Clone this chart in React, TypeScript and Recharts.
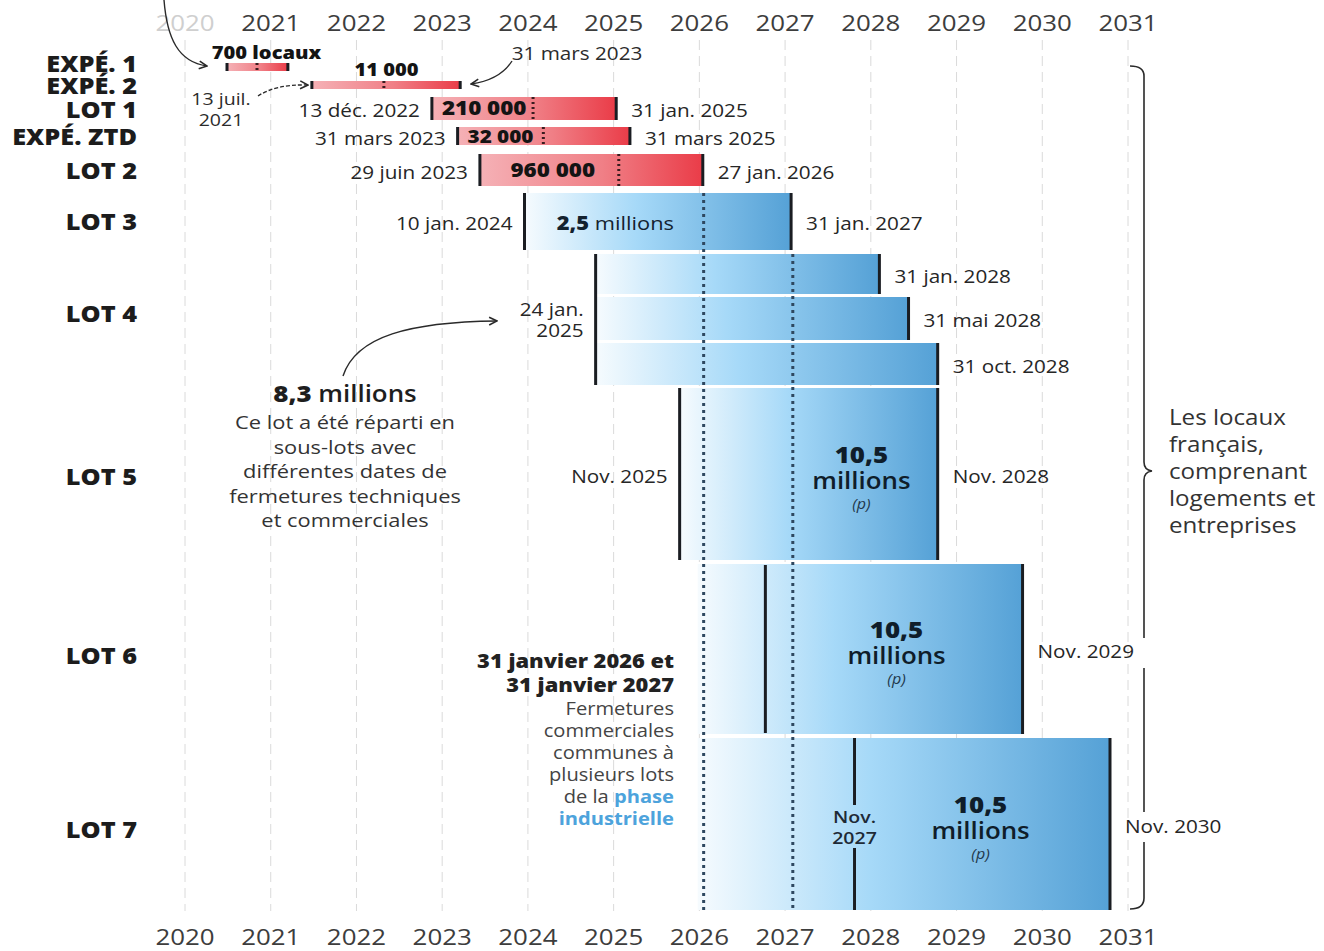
import React from 'react';
import {
  ComposedChart,
  XAxis,
  YAxis,
  CartesianGrid,
  ReferenceArea,
  ReferenceLine,
  Scatter,
} from 'recharts';

const FONT = '"Open Sans", "DejaVu Sans", sans-serif';

const years = [2020, 2021, 2022, 2023, 2024, 2025, 2026, 2027, 2028, 2029, 2030, 2031];
const rowNames = ['EXPÉ. 1', 'EXPÉ. 2', 'LOT 1', 'EXPÉ. ZTD', 'LOT 2', 'LOT 3', 'LOT 4', 'LOT 5', 'LOT 6', 'LOT 7'];

// experiments + lots 1-2 (red)
const redStart = [2020.49, 2021.48, 2022.88, 2023.18, 2023.44];
const redTech = [2020.84, 2022.32, 2024.06, 2024.18, 2025.06];
const redEnd = [2021.2, 2023.21, 2025.03, 2025.19, 2026.04];
const redValue = ['700 locaux', '11 000', '210 000', '32 000', '960 000'];
const redStartText = ['', '13 juil.\n2021', '13 déc. 2022', '31 mars 2023', '29 juin 2023'];
const redEndText = ['', '31 mars 2023', '31 jan. 2025', '31 mars 2025', '27 jan. 2026'];

// industrial phase (blue): lot 3, lot 4 (3 sub-lots), lots 5-7
const blueStart = [2023.96, 2024.79, 2024.79, 2024.79, 2025.77, 2026.77, 2027.81];
const blueFadeFrom = [2023.96, 2024.79, 2024.79, 2024.79, 2025.77, 2025.98, 2025.98];
const blueEnd = [2027.07, 2028.1, 2028.44, 2028.78, 2028.78, 2029.77, 2030.79];
const blueStartText = ['10 jan. 2024', '24 jan.\n2025', '', '', 'Nov. 2025', '', 'Nov.\n2027'];
const blueEndText = ['31 jan. 2027', '31 jan. 2028', '31 mai 2028', '31 oct. 2028', 'Nov. 2028', 'Nov. 2029', 'Nov. 2030'];
const blueValue = ['2,5', '', '', '', '10,5', '10,5', '10,5'];

// common commercial closures: 31 jan. 2026 and 31 jan. 2027
const commercialClosures = [2026.05, 2027.09];

// ---- layout ----
const W = 1324;
const H = 951;
const SX = 1.15; // text in the original is set wide
const rowLabelY = [64, 86, 110, 137, 171, 222, 314, 477, 656, 830];
const redBands = [[63, 71], [81, 89], [97, 120], [127, 145], [154, 186]];
const blueBands = [[193, 250], [254, 294], [297, 340], [343, 385], [388, 560], [564, 734], [738, 910]];
const blueStartSpan = [[193, 250], [254, 385], null, null, [388, 560], [565, 733], [738, 910]];
const redValueAt = [2020.95, 2022.35, 2023.49, 2023.68, 2024.29];
const redValueY = [53, 70, 108, 136, 170];
const redValueSize = [17.5, 17.5, 19.5, 18, 19.5];
const blueValueAt = [2025.02, 0, 0, 0, 2027.89, 2028.3, 2029.28];
const closureTop = [193, 254];
const lot7Gap = [805, 848];

type TProps = {
  x: number; y: number; anchor?: 'start' | 'middle' | 'end'; size: number; weight?: number;
  fill?: string; italic?: boolean; children: React.ReactNode;
};
function T({ x, y, anchor = 'start', size, weight = 400, fill = '#262626', italic, children }: TProps) {
  return (
    <text transform={`translate(${x},${y}) scale(${SX},1)`} x={0} y={0} textAnchor={anchor}
      dominantBaseline="central" fontFamily={FONT} fontSize={size} fontWeight={weight}
      fontStyle={italic ? 'italic' : 'normal'} fill={fill}>
      {children}
    </text>
  );
}

type Lbl = { x: number; y: number; kind: string; lines: string[]; i: number };

function buildLabels(): Lbl[] {
  const out: Lbl[] = [];
  redStart.forEach((s, i) => {
    const [t, b] = redBands[i];
    const c = (t + b) / 2 + 2;
    if (i >= 2) {
      out.push({ x: s, y: c, kind: 'start', lines: [redStartText[i]], i });
      out.push({ x: redEnd[i], y: c, kind: 'end', lines: [redEndText[i]], i });
    }
    out.push({ x: redValueAt[i], y: redValueY[i], kind: 'value', lines: [redValue[i]], i });
  });
  blueStart.forEach((s, i) => {
    const [t, b] = blueBands[i];
    const c = (t + b) / 2;
    if (blueStartText[i]) {
      const lines = blueStartText[i].split('\n');
      if (i === 6) out.push({ x: s, y: c + 2, kind: 'center', lines, i });
      else if (i === 1) out.push({ x: s, y: c + (385 - 294) / 2, kind: 'start', lines, i });
      else out.push({ x: s, y: c + 2, kind: 'start', lines, i });
    }
    out.push({ x: blueEnd[i], y: c + 2, kind: 'end', lines: [blueEndText[i]], i });
    if (blueValue[i] === '2,5') out.push({ x: blueValueAt[i], y: c + 1, kind: 'mill', lines: [blueValue[i]], i });
    else if (blueValue[i]) out.push({ x: blueValueAt[i], y: c, kind: 'big', lines: [blueValue[i]], i });
  });
  return out;
}

const renderLabel = (props: any) => {
  const { cx, cy, payload } = props;
  const p = payload as Lbl;
  if (p.kind === 'start') {
    const off = p.lines.length > 1 ? -10.5 : 0;
    return (
      <g>
        {p.lines.map((l, k) => (
          <T key={k} x={cx - 12} y={cy + off + k * 21} anchor="end" size={18} weight={500}>{l}</T>
        ))}
      </g>
    );
  }
  if (p.kind === 'end') {
    return <T x={cx + 15} y={cy} size={18} weight={500}>{p.lines[0]}</T>;
  }
  if (p.kind === 'center') {
    return (
      <g>
        {p.lines.map((l, k) => (
          <T key={k} x={cx} y={cy - 10 + k * 21} anchor="middle" size={17} weight={600} fill="#1e2a36">{l}</T>
        ))}
      </g>
    );
  }
  if (p.kind === 'value') {
    return <T x={cx} y={cy} anchor="middle" size={redValueSize[p.i]} weight={800} fill="#141414">{p.lines[0]}</T>;
  }
  if (p.kind === 'mill') {
    return (
      <T x={cx} y={cy} anchor="middle" size={19} fill="#13222f">
        <tspan fontWeight={800}>{p.lines[0]}</tspan>
        <tspan fontWeight={500}> millions</tspan>
      </T>
    );
  }
  // big block: 10,5 / millions / (p)
  return (
    <g>
      <T x={cx} y={cy - 20} anchor="middle" size={22.5} weight={800} fill="#0f1d2a">{p.lines[0]}</T>
      <T x={cx} y={cy + 6} anchor="middle" size={22.5} weight={600} fill="#0f1d2a">millions</T>
      <T x={cx} y={cy + 29} anchor="middle" size={14} italic fill="#22384c">(p)</T>
    </g>
  );
};

const TopTick = (props: any) => {
  const { x, y, payload } = props;
  return (
    <T x={x} y={y - 6} anchor="middle" size={22.5} fill={payload.value === 2020 ? '#cfcfcf' : '#3d3d3d'}>
      {payload.value}
    </T>
  );
};

const BottomTick = (props: any) => {
  const { x, y, payload } = props;
  return (
    <T x={x} y={y + 13} anchor="middle" size={22.5} fill="#3d3d3d">{payload.value}</T>
  );
};

const RowTick = (props: any) => {
  const { x, y, payload } = props;
  const idx = rowLabelY.indexOf(payload.value);
  return (
    <T x={x} y={y} anchor="end" size={22} weight={800} fill="#1c1c1c">{rowNames[idx]}</T>
  );
};

const DARK = '#1a1d22';
const hiddenTop = [{ x: 2020, y: 40 }, { x: 2031, y: 40 }];

export default function App() {
  const labels = buildLabels();
  const [e2start, e2end] = [redStartText[1].split('\n'), redEndText[1]];
  return (
    <div style={{ position: 'absolute', left: 0, top: 0, width: W, height: H, background: '#fff' }}>
      <ComposedChart width={W} height={H} margin={{ top: 0, right: 196, bottom: 0, left: 0 }}>
        <defs>
          <linearGradient id="redFill" x1="0" y1="0" x2="1" y2="0">
            <stop offset="0%" stopColor="#f5b1b6" />
            <stop offset="55%" stopColor="#f07f86" />
            <stop offset="100%" stopColor="#ea3c48" />
          </linearGradient>
          <linearGradient id="blueFill" x1="0" y1="0" x2="1" y2="0">
            <stop offset="0%" stopColor="#f6fbfe" />
            <stop offset="42%" stopColor="#a6d9f8" />
            <stop offset="100%" stopColor="#55a1d6" />
          </linearGradient>
        </defs>
        <CartesianGrid horizontal={false} stroke="#dadada" strokeDasharray="10 6" />
        <XAxis xAxisId={0} type="number" dataKey="x" domain={[2020, 2031]} ticks={years} interval={0}
          height={40} tickSize={0} tickMargin={12} axisLine={false} tickLine={false} tick={<BottomTick />} />
        <XAxis xAxisId="top" orientation="top" type="number" dataKey="x" domain={[2020, 2031]} ticks={years} interval={0}
          height={40} tickSize={0} tickMargin={12} axisLine={false} tickLine={false} tick={<TopTick />} />
        <YAxis type="number" dataKey="y" domain={[40, 911]} reversed width={185} ticks={rowLabelY} interval={0}
          tickSize={0} tickMargin={48} axisLine={false} tickLine={false} tick={<RowTick />} />

        {redStart.map((s, i) => (
          <ReferenceArea key={`ra${i}`} x1={s} x2={redEnd[i]} y1={redBands[i][0]} y2={redBands[i][1]}
            fill="url(#redFill)" fillOpacity={1} stroke="none" />
        ))}
        {blueStart.map((s, i) => (
          <ReferenceArea key={`ba${i}`} x1={blueFadeFrom[i]} x2={blueEnd[i]} y1={blueBands[i][0]} y2={blueBands[i][1]}
            fill="url(#blueFill)" fillOpacity={1} stroke="none" />
        ))}

        {commercialClosures.map((c, i) => (
          <ReferenceLine key={`cc${i}`} segment={[{ x: c, y: closureTop[i] }, { x: c, y: 910 }]}
            stroke="#2e4860" strokeWidth={3} strokeDasharray="3 4" />
        ))}

        {redStart.map((s, i) => (
          <ReferenceLine key={`rs${i}`} segment={[{ x: s, y: redBands[i][0] }, { x: s, y: redBands[i][1] }]}
            stroke={DARK} strokeWidth={3} />
        ))}
        {redEnd.map((e, i) => (
          <ReferenceLine key={`re${i}`} segment={[{ x: e, y: redBands[i][0] }, { x: e, y: redBands[i][1] }]}
            stroke={DARK} strokeWidth={3} />
        ))}
        {redTech.map((m, i) => (
          <ReferenceLine key={`rm${i}`} segment={[{ x: m, y: redBands[i][0] }, { x: m, y: redBands[i][1] }]}
            stroke="#3a1c1f" strokeWidth={3} strokeDasharray="2 3" />
        ))}

        {blueStart.map((s, i) => {
          const span = blueStartSpan[i];
          if (!span) return null;
          if (i === 6) {
            return [
              <ReferenceLine key="bs6a" segment={[{ x: s, y: span[0] }, { x: s, y: lot7Gap[0] }]} stroke={DARK} strokeWidth={3} />,
              <ReferenceLine key="bs6b" segment={[{ x: s, y: lot7Gap[1] }, { x: s, y: span[1] }]} stroke={DARK} strokeWidth={3} />,
            ];
          }
          return (
            <ReferenceLine key={`bs${i}`} segment={[{ x: s, y: span[0] }, { x: s, y: span[1] }]} stroke={DARK} strokeWidth={3} />
          );
        })}
        {blueEnd.map((e, i) => (
          <ReferenceLine key={`be${i}`} segment={[{ x: e, y: blueBands[i][0] }, { x: e, y: blueBands[i][1] }]}
            stroke={DARK} strokeWidth={3} />
        ))}

        <Scatter data={labels} shape={renderLabel} isAnimationActive={false} />
        <Scatter xAxisId="top" data={hiddenTop} shape={() => <g />} isAnimationActive={false} />
      </ComposedChart>

      <svg width={W} height={H} style={{ position: 'absolute', left: 0, top: 0, pointerEvents: 'none' }}>
        <defs>
          <marker id="arr" viewBox="0 0 10 10" refX="9" refY="5" markerWidth="7" markerHeight="7" orient="auto">
            <path d="M1,1 L9,5 L1,9" fill="none" stroke="#2a2a2a" strokeWidth="1.6" />
          </marker>
        </defs>
        <g fill="none" stroke="#2a2a2a" strokeWidth={1.4}>
          <path d="M164 0 C167 38 178 62 207 66" markerEnd="url(#arr)" />
          <path d="M258 96 Q276 84 308 85" markerEnd="url(#arr)" strokeDasharray="4 2" />
          <path d="M512 61 Q500 80 471 84" markerEnd="url(#arr)" />
          <path d="M343 376 C356 336 410 322 497 321" markerEnd="url(#arr)" />
        </g>
        {/* brace */}
        <g fill="none" stroke="#2a2a2a" strokeWidth={1.6}>
          <path d="M1130 66 Q1144 66 1144 76 L1144 462 Q1144 470 1152 471 Q1144 472 1144 480 L1144 638" />
          <path d="M1144 668 L1144 812" />
          <path d="M1144 842 L1144 898 Q1144 909 1130 909" />
        </g>

        {e2start.map((l, k) => (
          <T key={k} x={221} y={98 + k * 21} anchor="middle" size={17} weight={500} fill="#2b2b2b">{l}</T>
        ))}
        <T x={577} y={53} anchor="middle" size={18} weight={500} fill="#2b2b2b">{e2end}</T>

        <T x={345} y={393} anchor="middle" size={22.5} fill="#1e1e1e">
          <tspan fontWeight={800}>8,3</tspan>
          <tspan fontWeight={600}> millions</tspan>
        </T>
        {['Ce lot a été réparti en', 'sous-lots avec', 'différentes dates de', 'fermetures techniques', 'et commerciales'].map((l, k) => (
          <T key={k} x={345} y={422 + k * 24.5} anchor="middle" size={19} fill="#333">{l}</T>
        ))}

        {['31 janvier 2026 et', '31 janvier 2027'].map((l, k) => (
          <T key={k} x={674} y={661 + k * 24} anchor="end" size={19} weight={800} fill="#222">{l}</T>
        ))}
        {['Fermetures', 'commerciales', 'communes à', 'plusieurs lots'].map((l, k) => (
          <T key={k} x={674} y={709 + k * 22} anchor="end" size={17.5} fill="#444">{l}</T>
        ))}
        <T x={674} y={797} anchor="end" size={17.5} fill="#444">
          de la <tspan fill="#4da3dc" fontWeight={700}>phase</tspan>
        </T>
        <T x={674} y={819} anchor="end" size={17.5} fill="#4da3dc" weight={700}>industrielle</T>

        {['Les locaux', 'français,', 'comprenant', 'logements et', 'entreprises'].map((l, k) => (
          <T key={k} x={1169} y={417 + k * 27} size={21} fill="#333">{l}</T>
        ))}
      </svg>
    </div>
  );
}
